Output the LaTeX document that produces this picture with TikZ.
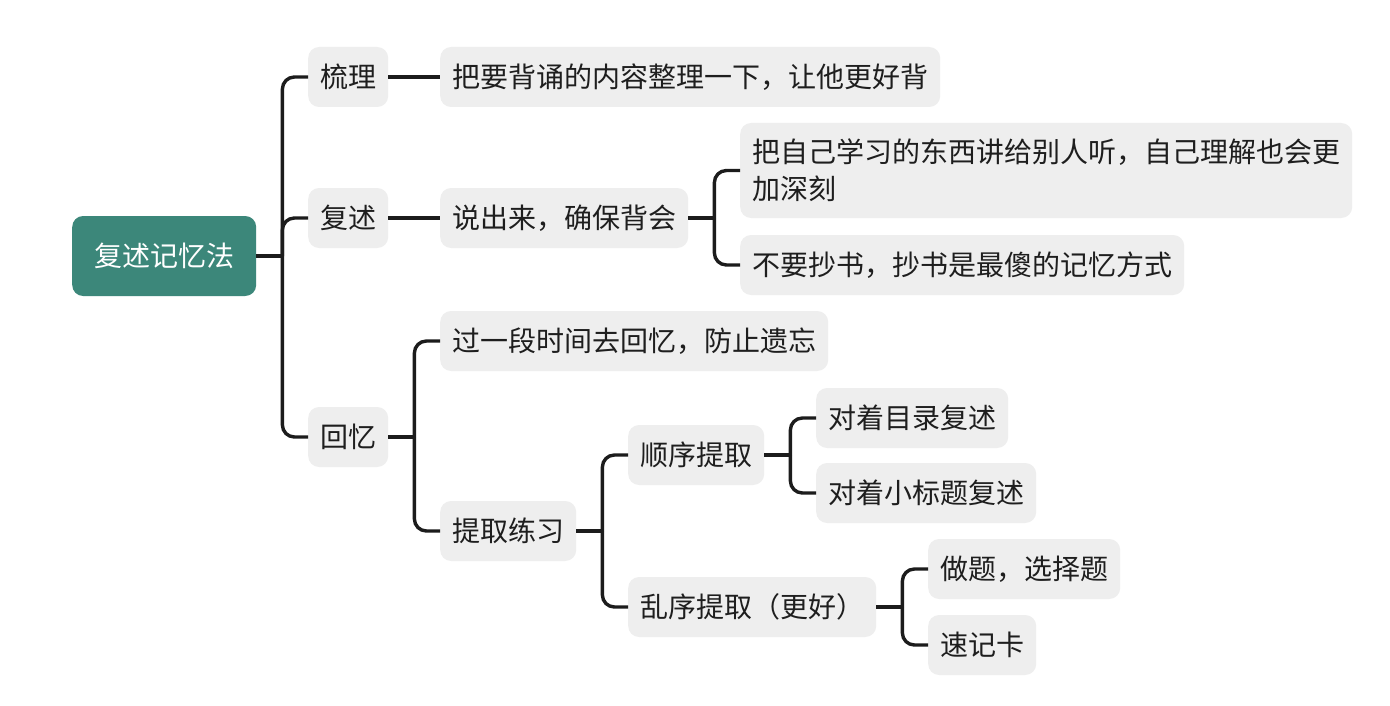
\documentclass[tikz,border=0pt]{standalone}
\usepackage{fontspec}
\newfontfamily\cjk{Noto Sans CJK SC}
\usetikzlibrary{positioning}
\definecolor{rootColor}{RGB}{60,135,122}
\definecolor{boxColor}{RGB}{238,238,238}
\definecolor{lineColor}{RGB}{28,28,28}
\definecolor{textColor}{RGB}{30,30,30}

\begin{document}
\begin{tikzpicture}[x=1pt,y=-1pt,
  topic/.style={fill=boxColor,rounded corners=11pt,text=textColor,
    font=\cjk\fontsize{28}{37}\selectfont,inner xsep=12pt,inner ysep=0pt,
    minimum height=60pt,anchor=west},
  rootbox/.style={topic,fill=rootColor,text=white,inner xsep=22pt,minimum height=80pt},
  link/.style={draw=lineColor,line width=3.4pt,rounded corners=12pt}]
\path[use as bounding box,fill=white] (0,0) rectangle (1390,706);

% main branches
\node[rootbox] (root) at (72,256) {复述记忆法};
\node[topic] (sl) at (308,77) {梳理};
\node[topic] (fs) at (308,218) {复述};
\node[topic] (hy) at (308,437) {回忆};

% 梳理 / 复述
\node[topic] (sl1) at (440,77) {把要背诵的内容整理一下，让他更好背};
\node[topic] (fs1) at (440,218) {说出来，确保背会};
\node[topic,align=left,minimum height=95pt] (fs11) at (740,170.5)
  {把自己学习的东西讲给别人听，自己理解也会更\\加深刻};
\node[topic] (fs12) at (740,265) {不要抄书，抄书是最傻的记忆方式};

% 回忆
\node[topic] (hy1) at (440,341) {过一段时间去回忆，防止遗忘};
\node[topic] (hy2) at (440,531) {提取练习};
\node[topic] (sx) at (628,455) {顺序提取};
\node[topic] (sx1) at (816,418) {对着目录复述};
\node[topic] (sx2) at (816,493) {对着小标题复述};
\node[topic] (lx) at (628,607) {乱序提取（更好）};
\node[topic] (lx1) at (928,569) {做题，选择题};
\node[topic] (lx2) at (928,645) {速记卡};

% connectors
\coordinate[right=26pt of root] (jroot);
\draw[link] (root) -- (jroot);
\foreach \c in {sl,fs,hy} \draw[link] (jroot) |- (\c.west);

\draw[link] (sl) -- (sl1);
\draw[link] (fs) -- (fs1);

\coordinate[right=26pt of fs1] (jfs1);
\draw[link] (fs1) -- (jfs1);
\foreach \c in {fs11,fs12} \draw[link] (jfs1) |- (\c.west);

\coordinate[right=26pt of hy] (jhy);
\draw[link] (hy) -- (jhy);
\foreach \c in {hy1,hy2} \draw[link] (jhy) |- (\c.west);

\coordinate[right=26pt of hy2] (jhy2);
\draw[link] (hy2) -- (jhy2);
\foreach \c in {sx,lx} \draw[link] (jhy2) |- (\c.west);

\coordinate[right=26pt of sx] (jsx);
\draw[link] (sx) -- (jsx);
\foreach \c in {sx1,sx2} \draw[link] (jsx) |- (\c.west);

\coordinate[right=26pt of lx] (jlx);
\draw[link] (lx) -- (jlx);
\foreach \c in {lx1,lx2} \draw[link] (jlx) |- (\c.west);
\end{tikzpicture}
\end{document}
